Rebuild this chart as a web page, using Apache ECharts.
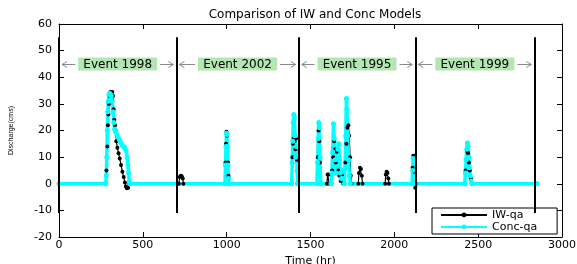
<!DOCTYPE html>
<html>
<head>
<meta charset="utf-8">
<script src="https://cdn.jsdelivr.net/npm/echarts@6/dist/echarts.min.js"></script>
<style>
  html, body { margin: 0; padding: 0; background: #fff; }
  #chart { width: 577px; height: 264px; }
</style>
</head>
<body>
<div id="chart"></div>
<script>
  // [hour, discharge]
  var iwQa = [
    [0, 0], [280, 0], [283, 5], [286, 10], [289, 14], [292, 22], [295, 26], [298, 30], [302, 33], [306, 34.5],
    [312, 34.5], [318, 34.5], [322, 33], [326, 28], [330, 24], [334, 22], [338, 20], [342, 16], [348, 13.5],
    [355, 11.5], [362, 9.5], [370, 7], [378, 4.5], [386, 2.5], [393, 0.5], [399, -1], [405, -1.7], [412, -1.5], [418, 0],
    [715, 0], [720, 2.5], [726, 3], [732, 2.8], [738, 2], [742, 0],
    [990, 0], [993, 8], [996, 15], [999, 19.5], [1002, 18], [1005, 14], [1008, 8], [1011, 3], [1014, 0],
    [1388, 0], [1392, 10], [1396, 15], [1400, 17], [1405, 16], [1410, 13], [1414, 17], [1418, 9], [1422, 0],
    [1540, 0], [1544, 10], [1548, 20], [1552, 16], [1556, 8], [1560, 0],
    [1598, 0], [1602, 3.5], [1608, 3.5], [1612, 0],
    [1625, 0], [1630, 5], [1636, 10], [1641, 16], [1646, 13], [1651, 8], [1656, 12], [1661, 9], [1666, 5], [1672, 3], [1680, 1], [1688, 3], [1695, 0],
    [1702, 0], [1708, 8], [1714, 15], [1720, 21], [1726, 22], [1731, 18], [1736, 10], [1740, 3], [1745, 0],
    [1785, 0], [1789, 4], [1795, 6], [1801, 5.5], [1806, 3], [1810, 0],
    [1945, 0], [1949, 3.5], [1954, 4.5], [1959, 4], [1964, 2], [1968, 0],
    [2105, 0], [2109, 6], [2113, 10.5], [2118, 10.5], [2122, 4], [2125, -1.5], [2130, 0],
    [2420, 0], [2425, 5], [2430, 9], [2435, 12], [2440, 11.5], [2445, 8], [2450, 5], [2456, 2], [2462, 0],
    [2850, 0]
  ];
  var concQa = [
    [0, 0], [279, 0], [282, 3], [285, 10], [288, 20], [291, 27], [294, 31], [298, 33.5], [302, 34], [307, 33.5],
    [312, 33], [317, 31], [322, 27], [327, 23], [332, 20.5], [338, 19.5], [345, 18.5], [352, 17.5], [360, 16.5],
    [368, 15.5], [376, 14.5], [384, 14], [392, 13.5], [400, 12.5], [406, 10], [411, 7], [415, 4], [419, 1], [422, 0],
    [990, 0], [993, 7], [996, 14], [999, 19], [1002, 18.5], [1005, 14], [1008, 7], [1011, 2], [1014, 0],
    [1388, 0], [1391, 8], [1394, 16], [1397, 23], [1400, 26], [1404, 25], [1408, 18], [1412, 10], [1416, 14], [1420, 5], [1424, 0],
    [1538, 0], [1542, 8], [1546, 17], [1549, 23], [1553, 21], [1557, 10], [1561, 0],
    [1622, 0], [1627, 4], [1632, 12], [1637, 22.5], [1642, 17], [1647, 9], [1652, 4], [1657, 9], [1663, 13], [1668, 15],
    [1673, 9], [1678, 4], [1684, 2], [1690, 5], [1696, 2], [1702, 0],
    [1706, 6], [1710, 18], [1714, 32], [1718, 28], [1722, 18], [1727, 9], [1732, 3], [1738, 0],
    [2106, 0], [2109, 5], [2113, 9.5], [2117, 8], [2121, 3], [2125, 0],
    [2420, 0], [2424, 4], [2428, 9], [2432, 13], [2436, 15.3], [2440, 14], [2444, 10], [2448, 6], [2453, 3], [2458, 1], [2463, 0],
    [2850, 0]
  ];
  var eventBounds = [0, 700, 1430, 2125, 2835];
  var eventNames = ['Event 1998', 'Event 2002', 'Event 1995', 'Event 1999'];
  var boundTop = 55;
  var boundBottom = -11;
  var arrowLevel = 45;

  var font = 'DejaVu Sans';

  var eventSpans = [];
  for (var i = 0; i < eventNames.length; i++) {
    eventSpans.push([eventBounds[i], eventBounds[i + 1]]);
  }
  var boundLines = eventBounds.map(function (x) {
    return [{coord: [x, boundTop]}, {coord: [x, boundBottom]}];
  });

  function plain (v) {
    return String(v);
  }

  function renderEvent (params, api) {
    var a = api.coord([api.value(0), arrowLevel]);
    var b = api.coord([api.value(1), arrowLevel]);
    var y = Math.round(a[1]) + 0.5;
    var x0 = a[0] + 3;
    var x1 = b[0] - 3;
    var mid = (a[0] + b[0]) / 2;
    var bw = 79;
    var bh = 13;
    var grey = '#8a8a8a';
    return {
      type: 'group',
      children: [
        {type: 'line', shape: {x1: x0, y1: y, x2: mid - bw / 2 - 3, y2: y}, style: {stroke: grey, lineWidth: 1}},
        {type: 'line', shape: {x1: mid + bw / 2 + 3, y1: y, x2: x1, y2: y}, style: {stroke: grey, lineWidth: 1}},
        {type: 'polyline', shape: {points: [[x0 + 5, y - 3], [x0, y], [x0 + 5, y + 3]]}, style: {stroke: grey, fill: null, lineWidth: 1}},
        {type: 'polyline', shape: {points: [[x1 - 5, y - 3], [x1, y], [x1 - 5, y + 3]]}, style: {stroke: grey, fill: null, lineWidth: 1}},
        {type: 'rect', shape: {x: mid - bw / 2, y: y - bh / 2 - 0.5, width: bw, height: bh}, style: {fill: '#b3e6b3'}},
        {type: 'text', style: {text: eventNames[params.dataIndex], x: mid, y: y, align: 'center', verticalAlign: 'middle',
          fontSize: 12, fontFamily: font, fill: '#000'}}
      ]
    };
  }

  var chart = echarts.init(document.getElementById('chart'));
  chart.setOption({
    animation: false,
    backgroundColor: '#fff',
    title: {
      text: 'Comparison of IW and Conc Models',
      left: 310,
      textAlign: 'center',
      top: 4,
      textStyle: {fontSize: 12, fontWeight: 'normal', fontFamily: font, color: '#000'}
    },
    legend: {
      data: ['IW-qa', 'Conc-qa'],
      orient: 'vertical',
      left: 432,
      top: 208,
      padding: [1, 20, 1, 8],
      itemGap: 0,
      itemWidth: 46,
      itemHeight: 6,
      borderColor: '#000',
      borderWidth: 1,
      borderRadius: 0,
      backgroundColor: '#fff',
      textStyle: {fontSize: 11, fontFamily: font, color: '#000', lineHeight: 12}
    },
    grid: {left: 59, right: 15, top: 24, bottom: 27, outerBoundsMode: 'none'},
    xAxis: [{
      type: 'value',
      min: 0,
      max: 3000,
      interval: 500,
      name: 'Time (hr)',
      nameLocation: 'middle',
      nameGap: 9,
      nameTextStyle: {fontSize: 11, fontFamily: font, color: '#000'},
      axisLine: {onZero: false, lineStyle: {color: '#000'}},
      axisTick: {inside: true, length: 5, lineStyle: {color: '#000'}},
      axisLabel: {margin: 3, fontSize: 11, fontFamily: font, color: '#000', formatter: plain},
      splitLine: {show: false}
    }, {
      type: 'value',
      position: 'top',
      min: 0,
      max: 3000,
      interval: 500,
      axisLine: {onZero: false, lineStyle: {color: '#000'}},
      axisTick: {inside: true, length: 5, lineStyle: {color: '#000'}},
      axisLabel: {show: false},
      splitLine: {show: false}
    }],
    yAxis: [{
      type: 'value',
      min: -20,
      max: 60,
      interval: 10,
      name: 'Discharge(cms)',
      nameLocation: 'middle',
      nameGap: 44,
      nameTextStyle: {fontSize: 7, fontFamily: 'Liberation Sans', color: '#000'},
      axisLine: {onZero: false, lineStyle: {color: '#000'}},
      axisTick: {inside: true, length: 5, lineStyle: {color: '#000'}},
      axisLabel: {margin: 7, fontSize: 11, fontFamily: font, color: '#000'},
      splitLine: {show: false}
    }, {
      type: 'value',
      position: 'right',
      min: -20,
      max: 60,
      interval: 10,
      axisLine: {show: true, onZero: false, lineStyle: {color: '#000'}},
      axisTick: {show: true, inside: true, length: 5, lineStyle: {color: '#000'}},
      axisLabel: {show: false},
      splitLine: {show: false}
    }],
    series: [{
      name: 'IW-qa',
      type: 'line',
      data: iwQa,
      color: '#000',
      symbol: 'circle',
      symbolSize: 4,
      showAllSymbol: true,
      lineStyle: {color: '#000', width: 1.2},
      itemStyle: {color: '#000'}
    }, {
      name: 'Conc-qa',
      type: 'line',
      data: concQa,
      color: '#00ffff',
      symbol: 'circle',
      symbolSize: 5,
      showAllSymbol: true,
      lineStyle: {color: '#00ffff', width: 3.5},
      itemStyle: {color: '#00ffff'}
    }, {
      name: 'bounds',
      type: 'line',
      data: [],
      markLine: {
        silent: true,
        symbol: 'none',
        label: {show: false},
        lineStyle: {color: '#000', width: 2, type: 'solid'},
        data: boundLines
      }
    }, {
      name: 'events',
      type: 'custom',
      renderItem: renderEvent,
      data: eventSpans,
      z: 5
    }]
  });
</script>
</body>
</html>
